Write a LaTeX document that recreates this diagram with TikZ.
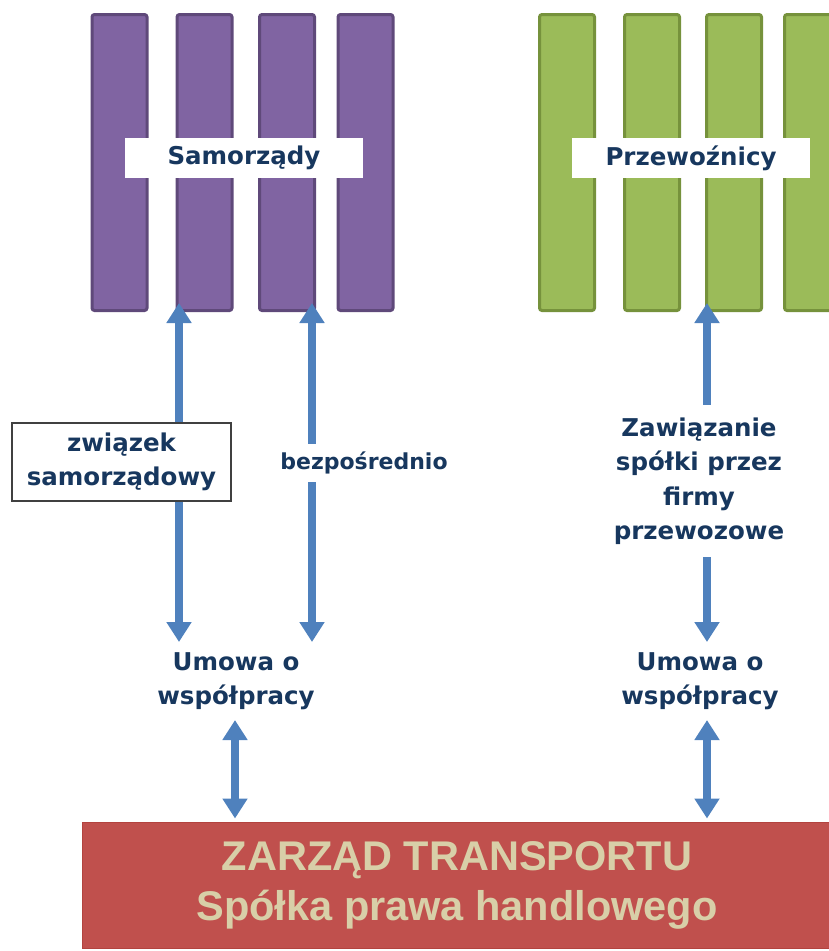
\documentclass[tikz,border=0pt]{standalone}
\usepackage{fontspec}
\setmainfont{DejaVu Sans}
\newfontfamily\headfont{Liberation Sans}
\usetikzlibrary{arrows.meta,calc}
\definecolor{purplefill}{HTML}{8064A2}
\definecolor{purpleedge}{HTML}{5F497A}
\definecolor{greenfill}{HTML}{9BBB59}
\definecolor{greenedge}{HTML}{76923C}
\definecolor{linkblue}{HTML}{4F81BD}
\definecolor{navytext}{HTML}{17375E}
\definecolor{boardred}{HTML}{C0504D}
\definecolor{boardedge}{HTML}{B3433F}
\definecolor{boardtext}{HTML}{D8CFA8}
\begin{document}
\begin{tikzpicture}[x=1pt,y=-1pt,
  bar/.style={rectangle, rounded corners=2.5pt, line width=3pt,
    minimum width=55pt, minimum height=296pt, inner sep=0pt},
  pbar/.style={bar, fill=purplefill, draw=purpleedge},
  gbar/.style={bar, fill=greenfill, draw=greenedge},
  tag/.style={fill=white, inner sep=0pt, minimum width=238pt, minimum height=40pt,
    text=navytext, font=\bfseries\fontsize{24.5}{30}\selectfont},
  note/.style={text=navytext, align=center, inner xsep=4pt,
    font=\bfseries\fontsize{24.5}{34.5}\selectfont},
  link/.style={draw=linkblue, line width=8pt,
    {Triangle[width=24pt,length=20pt]}-{Triangle[width=24pt,length=20pt]}}
]
\useasboundingbox (0,0) rectangle (829,951);
\clip (0,0) rectangle (829,951);

% local governments
\node[pbar] (s1) at (119.5,162.5) {};
\node[pbar] (s2) at (204.5,162.5) {};
\node[pbar] (s3) at (287,162.5) {};
\node[pbar] (s4) at (365.5,162.5) {};
\node[tag] (samo) at (244,158) {Samorządy};

% carriers
\node[gbar] (g1) at (567,162.5) {};
\node[gbar] (g2) at (652,162.5) {};
\node[gbar] (g3) at (734,162.5) {};
\node[gbar] (g4) at (812,162.5) {};
\node[tag] (przew) at (691,158) {Przewoźnicy};

% agreements
\node[note, anchor=north, inner ysep=10pt] (um1) at (236,642) {Umowa o\\współpracy};
\node[note, anchor=north, inner ysep=10pt] (um2) at (700,642) {Umowa o\\współpracy};

% transport authority
\node[fill=boardred, draw=boardedge, line width=1pt, minimum width=750pt,
  minimum height=126pt, inner sep=0pt, text=boardtext, align=center,
  font=\headfont\bfseries\fontsize{41.5}{50}\selectfont] (zt) at (457,885)
  {ZARZĄD TRANSPORTU\\Spółka prawa handlowego};

% connections
\draw[link] ($(s2.south)+(-25.5,-9)$) -- ($(um1.north)+(-57,0)$);
\draw[link] ($(s3.south)+(25,-9)$) -- ($(um1.north)+(76,0)$);
\draw[link] ($(g3.south)+(-27,-9)$) -- ($(um2.north)+(7,0)$);
\coordinate (l1) at ($(um1.south)+(-1,0)$);
\coordinate (r1) at ($(um2.south)+(7,0)$);
\draw[link, shorten >=3pt] (l1) -- (l1 |- zt.north);
\draw[link, shorten >=3pt] (r1) -- (r1 |- zt.north);

% labels on the connections
\node[note, fill=white, draw=black!75, line width=1.2pt, minimum width=219pt,
  minimum height=78pt, inner sep=0pt] (zw) at (121.5,462) {związek\\samorządowy};
\node[note, fill=white, inner ysep=8pt,
  font=\bfseries\fontsize{22}{30}\selectfont] (bez) at (364,463) {bezpośrednio};
\node[note, fill=white, inner ysep=12pt] (zaw) at (699,481)
  {Zawiązanie\\spółki przez\\firmy\\przewozowe};
\end{tikzpicture}
\end{document}
